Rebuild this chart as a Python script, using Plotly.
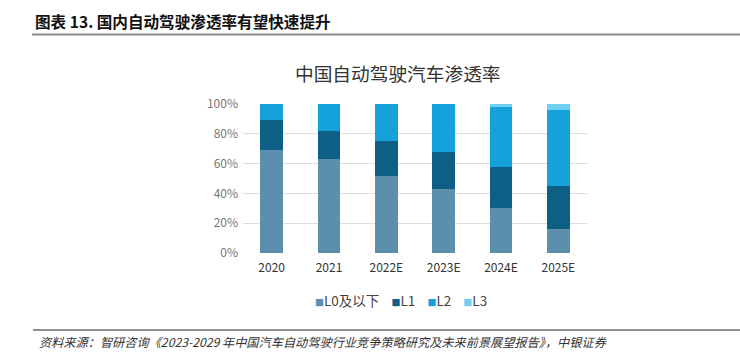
import plotly.graph_objects as go

categories = ["2020", "2021", "2022E", "2023E", "2024E", "2025E"]
l0 = [69, 63, 52, 43, 30, 16]
l1 = [20, 19, 23, 25, 27.5, 29]
l2 = [11, 18, 25, 32, 40.5, 51]
l3 = [0, 0, 0, 0, 2, 4]
series_names = ["L0及以下", "L1", "L2", "L3"]
colors = ["#5b8fab", "#0d5f86", "#15a1da", "#6fd0f3"]

W, H = 740, 352
L, R, T, B = 243, 153, 104, 99

fig = go.Figure()
for name, vals, c in zip(series_names, [l0, l1, l2, l3], colors):
    fig.add_trace(go.Bar(x=categories, y=vals, name=name, showlegend=False,
                         marker=dict(color=c, line=dict(width=0))))

def px(xp):
    return (xp - L) / (W - L - R)

def py(yp):
    return (H - B - yp) / (H - T - B)

fig.update_layout(
    width=W, height=H,
    margin=dict(l=L, r=R, t=T, b=B),
    barmode="stack", bargap=0.6,
    plot_bgcolor="white", paper_bgcolor="white",
    font=dict(family="Noto Sans CJK SC", color="#555", size=12),
    xaxis=dict(showgrid=False, zeroline=False, showline=False, ticks="",
               tickfont=dict(size=12, color="#333"), ticklabelstandoff=6),
    yaxis=dict(range=[0, 100], tickvals=[0, 20, 40, 60, 80, 100],
               ticktext=["0%", "20%", "40%", "60%", "80%", "100%"],
               showgrid=True, gridcolor="#dedede", gridwidth=1, zeroline=False,
               showline=False, ticks="", tickfont=dict(size=12, color="#777"),
               ticklabelstandoff=4, fixedrange=True),
)

# compact legend like the original (small squares next to the labels)
legend_html = "&nbsp;&nbsp;&nbsp;&nbsp;".join(
    f'<span style="color:{c};font-size:9px">■</span>{n}' for n, c in zip(series_names, colors)
)
fig.add_annotation(text=legend_html, xref="paper", yref="paper",
                   x=px(401), y=py(300), xanchor="center", yanchor="middle",
                   showarrow=False, font=dict(size=13.5, color="#444", family="Noto Sans CJK SC"))

fig.add_annotation(text="中国自动驾驶汽车渗透率", xref="paper", yref="paper",
                   x=px(398), y=py(72), xanchor="center", yanchor="middle",
                   showarrow=False, font=dict(size=18.7, color="#333", family="Noto Sans CJK SC"))

fig.add_annotation(text="<b>图表 13. 国内自动驾驶渗透率有望快速提升</b>", xref="paper", yref="paper",
                   x=px(33), y=py(21), xanchor="left", yanchor="middle",
                   showarrow=False, font=dict(size=15.6, color="#111", family="Noto Sans CJK SC"))

fig.add_shape(type="line", xref="paper", yref="paper", x0=px(32), x1=px(740), y0=py(34.5), y1=py(34.5),
              line=dict(color="#8a8a8a", width=2))
fig.add_shape(type="line", xref="paper", yref="paper", x0=px(33), x1=px(740), y0=py(330), y1=py(330),
              line=dict(color="#222", width=1))

fig.add_annotation(text="<i>资料来源：智研咨询《2023-2029 年中国汽车自动驾驶行业竞争策略研究及未来前景展望报告》，中银证券</i>",
                   xref="paper", yref="paper", x=px(37), y=py(342), xanchor="left", yanchor="middle",
                   showarrow=False, font=dict(size=12.2, color="#333", family="Noto Sans CJK SC"))

fig.write_html("out.html")
